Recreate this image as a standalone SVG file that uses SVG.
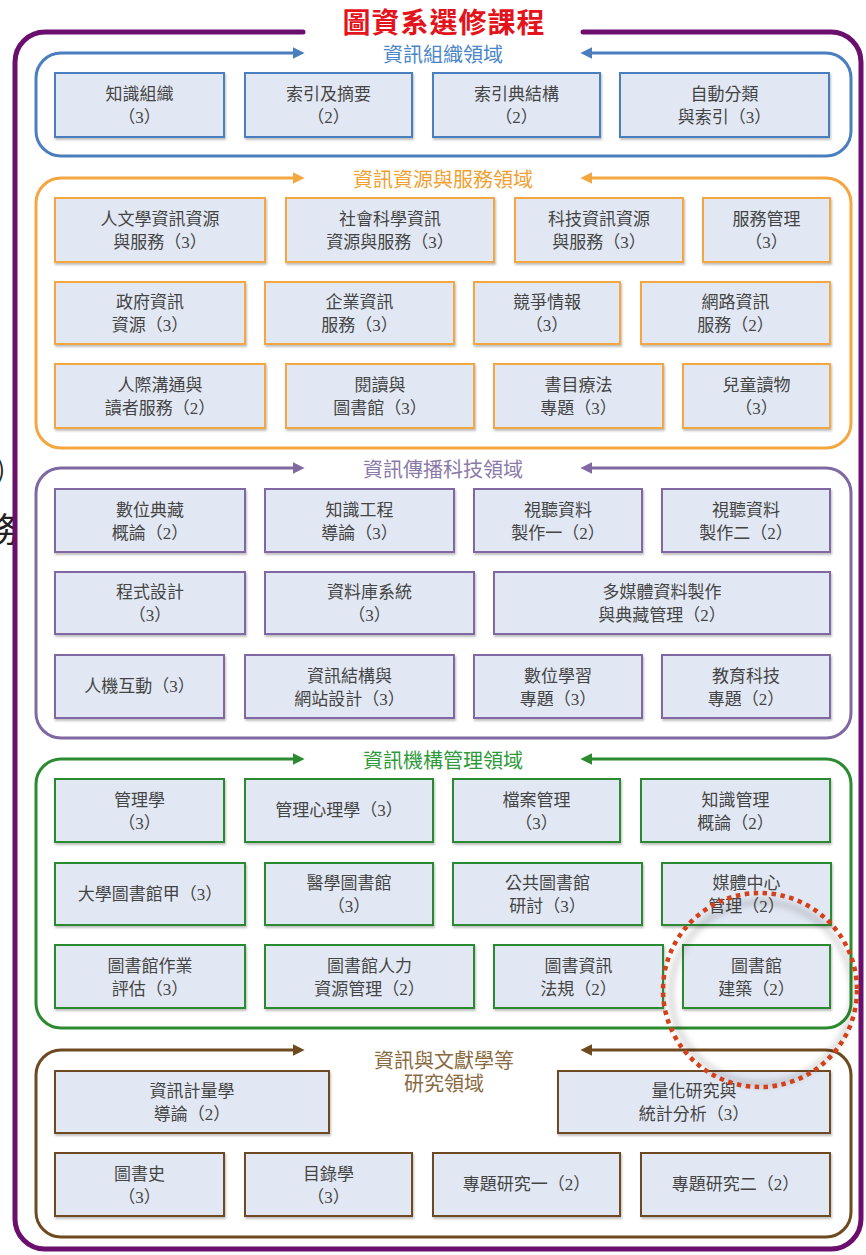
<svg xmlns="http://www.w3.org/2000/svg" width="866" height="1255" viewBox="0 0 866 1255">
<defs>
<style>
.bx{fill:#e2e8f3;stroke-width:2;filter:url(#sh)}
.tx{font-family:"Liberation Serif","Noto Sans CJK TC",serif;font-size:17px;fill:#444;text-anchor:middle}
.st{font-family:"Liberation Serif","Noto Sans CJK TC",serif;font-size:20px;text-anchor:middle}
.sec{fill:none;stroke-width:3}
.b{stroke:#4a7ebf}.o{stroke:#f4a640}.p{stroke:#8068a2}.g{stroke:#2c8a30}.r{stroke:#6e4a20}
</style>
<filter id="sh" x="-5%" y="-5%" width="115%" height="120%"><feDropShadow dx="1" dy="2" stdDeviation="1" flood-color="#000" flood-opacity="0.25"/></filter>
<filter id="blur" x="-20%" y="-20%" width="140%" height="140%"><feGaussianBlur stdDeviation="3"/></filter>
<marker id="mb" viewBox="0 0 10 10" refX="2" refY="5" markerWidth="4" markerHeight="4" orient="auto-start-reverse"><path d="M0,0 L10,5 L0,10 z" fill="#4a7ebf"/></marker>
<marker id="mo" viewBox="0 0 10 10" refX="2" refY="5" markerWidth="4" markerHeight="4" orient="auto-start-reverse"><path d="M0,0 L10,5 L0,10 z" fill="#f4a640"/></marker>
<marker id="mp" viewBox="0 0 10 10" refX="2" refY="5" markerWidth="4" markerHeight="4" orient="auto-start-reverse"><path d="M0,0 L10,5 L0,10 z" fill="#8068a2"/></marker>
<marker id="mg" viewBox="0 0 10 10" refX="2" refY="5" markerWidth="4" markerHeight="4" orient="auto-start-reverse"><path d="M0,0 L10,5 L0,10 z" fill="#2c8a30"/></marker>
<marker id="mr" viewBox="0 0 10 10" refX="2" refY="5" markerWidth="4" markerHeight="4" orient="auto-start-reverse"><path d="M0,0 L10,5 L0,10 z" fill="#6e4a20"/></marker>
</defs>
<rect width="866" height="1255" fill="#fff"/>

<!-- cut-off fragments at left edge -->
<text x="-3" y="478" font-family="Noto Sans CJK TC,sans-serif" font-size="24" fill="#222">)</text>
<text x="-16" y="542" font-family="Noto Sans CJK TC,sans-serif" font-size="34" fill="#222">務</text>

<!-- outer frame -->
<g id="outer">
<path d="M303 32 H45 A30 30 0 0 0 15 62 V1219 A30 30 0 0 0 45 1249 H831 A30 30 0 0 0 861 1219 V62 A30 30 0 0 0 831 32 H583" fill="none" stroke="#6a0f6e" stroke-width="5" stroke-linecap="round"/>
<text x="444" y="33" font-family="Noto Sans CJK TC,sans-serif" font-size="28" font-weight="bold" fill="#e4141c" text-anchor="middle" letter-spacing="1">圖資系選修課程</text>
</g>

<!-- section frames (connectors) -->
<g id="connectors">
<path class="sec b" marker-start="url(#mb)" marker-end="url(#mb)" d="M295 53 H61 A25 25 0 0 0 36 78 V131 A25 25 0 0 0 61 156 H826 A25 25 0 0 0 851 131 V78 A25 25 0 0 0 826 53 H590"/>
<path class="sec o" marker-start="url(#mo)" marker-end="url(#mo)" d="M295 178 H61 A25 25 0 0 0 36 203 V423 A25 25 0 0 0 61 448 H826 A25 25 0 0 0 851 423 V203 A25 25 0 0 0 826 178 H590"/>
<path class="sec p" marker-start="url(#mp)" marker-end="url(#mp)" d="M295 468 H61 A25 25 0 0 0 36 493 V713 A25 25 0 0 0 61 738 H826 A25 25 0 0 0 851 713 V493 A25 25 0 0 0 826 468 H590"/>
<path class="sec g" marker-start="url(#mg)" marker-end="url(#mg)" d="M295 759 H61 A25 25 0 0 0 36 784 V1003 A25 25 0 0 0 61 1028 H826 A25 25 0 0 0 851 1003 V784 A25 25 0 0 0 826 759 H590"/>
<path class="sec r" marker-start="url(#mr)" marker-end="url(#mr)" d="M295 1050 H61 A25 25 0 0 0 36 1075 V1212 A25 25 0 0 0 61 1237 H826 A25 25 0 0 0 851 1212 V1075 A25 25 0 0 0 826 1050 H590"/>
</g>

<!-- section titles -->
<g id="titles">
<text class="st" x="443" y="62" fill="#4a86c8">資訊組織領域</text>
<text class="st" x="443" y="187" fill="#f0a030">資訊資源與服務領域</text>
<text class="st" x="443" y="477" fill="#8a7aa8">資訊傳播科技領域</text>
<text class="st" x="443" y="768" fill="#2e9a3a">資訊機構管理領域</text>
<text class="st" x="444" y="1068" fill="#8a6a40">資訊與文獻學等</text>
<text class="st" x="444" y="1091" fill="#8a6a40">研究領域</text>
</g>

<!-- 資訊組織領域 -->
<g id="n-b1"><rect class="bx b" x="55" y="73" width="169" height="64"/><text class="tx" x="139.5" y="100">知識組織</text><text class="tx" x="139.5" y="123">（3）</text></g>
<g id="n-b2"><rect class="bx b" x="245" y="73" width="167" height="64"/><text class="tx" x="328.5" y="100">索引及摘要</text><text class="tx" x="328.5" y="123">（2）</text></g>
<g id="n-b3"><rect class="bx b" x="433" y="73" width="167" height="64"/><text class="tx" x="516.5" y="100">索引典結構</text><text class="tx" x="516.5" y="123">（2）</text></g>
<g id="n-b4"><rect class="bx b" x="620" y="73" width="209" height="64"/><text class="tx" x="724.5" y="100">自動分類</text><text class="tx" x="724.5" y="123">與索引（3）</text></g>

<!-- 資訊資源與服務領域 -->
<g id="n-o1"><rect class="bx o" x="55" y="198" width="210" height="64"/><text class="tx" x="160" y="225">人文學資訊資源</text><text class="tx" x="160" y="248">與服務（3）</text></g>
<g id="n-o2"><rect class="bx o" x="286" y="198" width="208" height="64"/><text class="tx" x="390" y="225">社會科學資訊</text><text class="tx" x="390" y="248">資源與服務（3）</text></g>
<g id="n-o3"><rect class="bx o" x="515" y="198" width="168" height="64"/><text class="tx" x="599" y="225">科技資訊資源</text><text class="tx" x="599" y="248">與服務（3）</text></g>
<g id="n-o4"><rect class="bx o" x="703" y="198" width="127" height="64"/><text class="tx" x="766.5" y="225">服務管理</text><text class="tx" x="766.5" y="248">（3）</text></g>
<g id="n-o5"><rect class="bx o" x="55" y="282" width="190" height="62"/><text class="tx" x="150" y="308">政府資訊</text><text class="tx" x="150" y="331">資源（3）</text></g>
<g id="n-o6"><rect class="bx o" x="265" y="282" width="189" height="62"/><text class="tx" x="359.5" y="308">企業資訊</text><text class="tx" x="359.5" y="331">服務（3）</text></g>
<g id="n-o7"><rect class="bx o" x="474" y="282" width="146" height="62"/><text class="tx" x="547" y="308">競爭情報</text><text class="tx" x="547" y="331">（3）</text></g>
<g id="n-o8"><rect class="bx o" x="641" y="282" width="189" height="62"/><text class="tx" x="735.5" y="308">網路資訊</text><text class="tx" x="735.5" y="331">服務（2）</text></g>
<g id="n-o9"><rect class="bx o" x="55" y="364" width="210" height="64"/><text class="tx" x="160" y="391">人際溝通與</text><text class="tx" x="160" y="414">讀者服務（2）</text></g>
<g id="n-o10"><rect class="bx o" x="286" y="364" width="188" height="64"/><text class="tx" x="380" y="391">閱讀與</text><text class="tx" x="380" y="414">圖書館（3）</text></g>
<g id="n-o11"><rect class="bx o" x="494" y="364" width="169" height="64"/><text class="tx" x="578.5" y="391">書目療法</text><text class="tx" x="578.5" y="414">專題（3）</text></g>
<g id="n-o12"><rect class="bx o" x="683" y="364" width="147" height="64"/><text class="tx" x="756.5" y="391">兒童讀物</text><text class="tx" x="756.5" y="414">（3）</text></g>

<!-- 資訊傳播科技領域 -->
<g id="n-p1"><rect class="bx p" x="55" y="489" width="190" height="63"/><text class="tx" x="150" y="516">數位典藏</text><text class="tx" x="150" y="539">概論（2）</text></g>
<g id="n-p2"><rect class="bx p" x="265" y="489" width="189" height="63"/><text class="tx" x="359.5" y="516">知識工程</text><text class="tx" x="359.5" y="539">導論（3）</text></g>
<g id="n-p3"><rect class="bx p" x="474" y="489" width="168" height="63"/><text class="tx" x="558" y="516">視聽資料</text><text class="tx" x="558" y="539">製作一（2）</text></g>
<g id="n-p4"><rect class="bx p" x="662" y="489" width="168" height="63"/><text class="tx" x="746" y="516">視聽資料</text><text class="tx" x="746" y="539">製作二（2）</text></g>
<g id="n-p5"><rect class="bx p" x="55" y="572" width="190" height="62"/><text class="tx" x="150" y="598">程式設計</text><text class="tx" x="150" y="621">（3）</text></g>
<g id="n-p6"><rect class="bx p" x="265" y="572" width="209" height="62"/><text class="tx" x="369.5" y="598">資料庫系統</text><text class="tx" x="369.5" y="621">（3）</text></g>
<g id="n-p7"><rect class="bx p" x="494" y="572" width="336" height="62"/><text class="tx" x="662" y="598">多媒體資料製作</text><text class="tx" x="662" y="621">與典藏管理（2）</text></g>
<g id="n-p8"><rect class="bx p" x="55" y="655" width="169" height="63"/><text class="tx" x="139.5" y="692">人機互動（3）</text></g>
<g id="n-p9"><rect class="bx p" x="245" y="655" width="209" height="63"/><text class="tx" x="349.5" y="682">資訊結構與</text><text class="tx" x="349.5" y="705">網站設計（3）</text></g>
<g id="n-p10"><rect class="bx p" x="474" y="655" width="168" height="63"/><text class="tx" x="558" y="682">數位學習</text><text class="tx" x="558" y="705">專題（3）</text></g>
<g id="n-p11"><rect class="bx p" x="662" y="655" width="168" height="63"/><text class="tx" x="746" y="682">教育科技</text><text class="tx" x="746" y="705">專題（2）</text></g>

<!-- 資訊機構管理領域 -->
<g id="n-g1"><rect class="bx g" x="55" y="779" width="169" height="63"/><text class="tx" x="139.5" y="806">管理學</text><text class="tx" x="139.5" y="829">（3）</text></g>
<g id="n-g2"><rect class="bx g" x="245" y="779" width="188" height="63"/><text class="tx" x="339" y="816">管理心理學（3）</text></g>
<g id="n-g3"><rect class="bx g" x="453" y="779" width="167" height="63"/><text class="tx" x="536.5" y="806">檔案管理</text><text class="tx" x="536.5" y="829">（3）</text></g>
<g id="n-g4"><rect class="bx g" x="641" y="779" width="189" height="63"/><text class="tx" x="735.5" y="806">知識管理</text><text class="tx" x="735.5" y="829">概論（2）</text></g>
<g id="n-g5"><rect class="bx g" x="55" y="863" width="190" height="62"/><text class="tx" x="150" y="900">大學圖書館甲（3）</text></g>
<g id="n-g6"><rect class="bx g" x="265" y="863" width="168" height="62"/><text class="tx" x="349" y="889">醫學圖書館</text><text class="tx" x="349" y="912">（3）</text></g>
<g id="n-g7"><rect class="bx g" x="453" y="863" width="189" height="62"/><text class="tx" x="547.5" y="889">公共圖書館</text><text class="tx" x="547.5" y="912">研討（3）</text></g>
<g id="n-g8"><rect class="bx g" x="662" y="863" width="169" height="62"/><text class="tx" x="746.5" y="889">媒體中心</text><text class="tx" x="746.5" y="912">管理（2）</text></g>
<g id="n-g9"><rect class="bx g" x="55" y="945" width="190" height="63"/><text class="tx" x="150" y="972">圖書館作業</text><text class="tx" x="150" y="995">評估（3）</text></g>
<g id="n-g10"><rect class="bx g" x="265" y="945" width="209" height="63"/><text class="tx" x="369.5" y="972">圖書館人力</text><text class="tx" x="369.5" y="995">資源管理（2）</text></g>
<g id="n-g11"><rect class="bx g" x="494" y="945" width="169" height="63"/><text class="tx" x="578.5" y="972">圖書資訊</text><text class="tx" x="578.5" y="995">法規（2）</text></g>
<g id="n-g12"><rect class="bx g" x="683" y="945" width="147" height="63"/><text class="tx" x="756.5" y="972">圖書館</text><text class="tx" x="756.5" y="995">建築（2）</text></g>

<!-- 資訊與文獻學等研究領域 -->
<g id="n-r1"><rect class="bx r" x="55" y="1071" width="274" height="62"/><text class="tx" x="192" y="1097">資訊計量學</text><text class="tx" x="192" y="1120">導論（2）</text></g>
<g id="n-r2"><rect class="bx r" x="558" y="1071" width="272" height="62"/><text class="tx" x="694" y="1097">量化研究與</text><text class="tx" x="694" y="1120">統計分析（3）</text></g>
<g id="n-r3"><rect class="bx r" x="55" y="1153" width="169" height="63"/><text class="tx" x="139.5" y="1180">圖書史</text><text class="tx" x="139.5" y="1203">（3）</text></g>
<g id="n-r4"><rect class="bx r" x="245" y="1153" width="167" height="63"/><text class="tx" x="328.5" y="1180">目錄學</text><text class="tx" x="328.5" y="1203">（3）</text></g>
<g id="n-r5"><rect class="bx r" x="433" y="1153" width="187" height="63"/><text class="tx" x="526.5" y="1190">專題研究一（2）</text></g>
<g id="n-r6"><rect class="bx r" x="641" y="1153" width="189" height="63"/><text class="tx" x="735.5" y="1190">專題研究二（2）</text></g>

<!-- highlight circle -->
<g id="highlight">
<circle cx="762" cy="993" r="91" fill="none" stroke="#000" stroke-opacity="0.18" stroke-width="5" filter="url(#blur)"/>
<circle cx="760" cy="990" r="97" fill="none" stroke="#d4401a" stroke-width="4.5" stroke-dasharray="4.5 4.5"/>
</g>
</svg>
